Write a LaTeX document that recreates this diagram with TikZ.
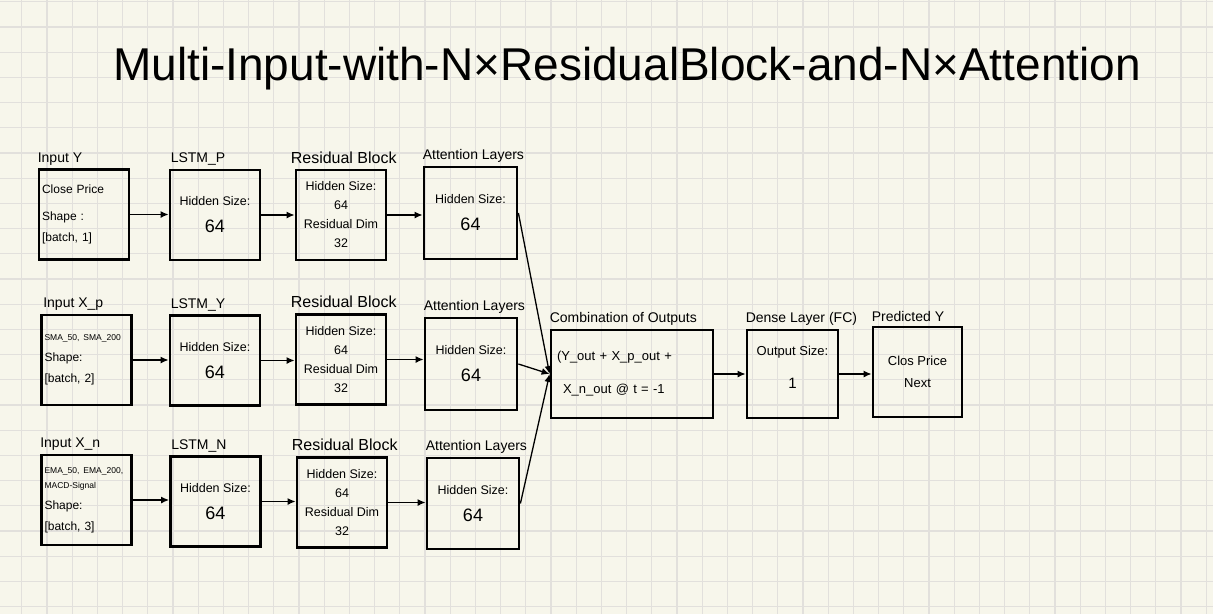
\documentclass[tikz,border=0pt]{standalone}
\usepackage{fontspec}
\setmainfont{Liberation Sans}
\usepackage{tikz}
\usetikzlibrary{arrows.meta,positioning}
\definecolor{paper}{RGB}{247,246,235}
\definecolor{gridgray}{RGB}{226,224,220}

\begin{document}
\begin{tikzpicture}[x=1pt, y=-1pt,
    layerbox/.style={draw, line width=2.8pt, minimum width=90pt,
        minimum height=90pt, inner sep=3pt, align=center,
        font=\fontsize{12.5}{19}\selectfont},
    inbox/.style={layerbox, text width=84pt, align=left,
        font=\fontsize{12}{21}\selectfont},
    layerlbl/.style={anchor=south west, inner sep=0pt,
        font=\fontsize{14}{16}\selectfont},
    flow/.style={-{Latex[length=8pt,width=7pt]}, line width=1.3pt},
    gridline/.style={gridgray, line width=1.2pt}]

    % Paper and grid
    \fill[paper] (0,0) rectangle (1213,614);
    \useasboundingbox (0,0) rectangle (1213,614);
    \foreach \k in {0,...,47} {
        \draw[gridline] ({21.7+25.2*\k},0) -- ({21.7+25.2*\k},614);
    }
    \foreach \k in {0,...,24} {
        \draw[gridline] (0,{1.7+25.2*\k}) -- (1213,{1.7+25.2*\k});
    }

    % Title
    \node[anchor=base, inner sep=0pt, font=\fontsize{46}{50}\selectfont]
        (title) at (627,80) {Multi-Input-with-N×ResidualBlock-and-N×Attention};

    % Row 1: Y
    \node[inbox] (inY) at (84,214.5)
        {Close Price\\[6pt] Shape :\\ {[}batch, 1{]}};
    \node[layerbox] (lstmP) at (215,215)
        {Hidden Size:\\[8pt] {\fontsize{18}{18}\selectfont 64}};
    \node[layerbox] (resA) at (341,215)
        {Hidden Size:\\ 64\\ Residual Dim\\ 32};
    \node[layerbox, minimum width=93pt, minimum height=92pt] (attA) at (470.5,213)
        {Hidden Size:\\[8pt] {\fontsize{18}{18}\selectfont 64}};

    % Row 2: X_p
    \node[inbox] (inP) at (86.5,360)
        {{\fontsize{8.5}{10}\selectfont SMA\_50, SMA\_200}\\ Shape:\\ {[}batch, 2{]}};
    \node[layerbox] (lstmY) at (215,360.5)
        {Hidden Size:\\[8pt] {\fontsize{18}{18}\selectfont 64}};
    \node[layerbox] (resB) at (341,359.5)
        {Hidden Size:\\ 64\\ Residual Dim\\ 32};
    \node[layerbox, minimum width=92pt, minimum height=92pt] (attB) at (471,364)
        {Hidden Size:\\[8pt] {\fontsize{18}{18}\selectfont 64}};

    % Row 3: X_n
    \node[inbox] (inN) at (86.5,500)
        {{\fontsize{8.5}{14}\selectfont EMA\_50, EMA\_200,\\[-6pt] MACD-Signal}\\ Shape:\\ {[}batch, 3{]}};
    \node[layerbox] (lstmN) at (215.5,501.5)
        {Hidden Size:\\[8pt] {\fontsize{18}{18}\selectfont 64}};
    \node[layerbox] (resC) at (342,502.5)
        {Hidden Size:\\ 64\\ Residual Dim\\ 32};
    \node[layerbox, minimum width=92pt, minimum height=91pt] (attC) at (473,503.5)
        {Hidden Size:\\[8pt] {\fontsize{18}{18}\selectfont 64}};

    % Merge and output
    \node[layerbox, minimum width=162pt, minimum height=88pt, text width=150pt,
        align=left, font=\fontsize{13}{33}\selectfont] (comb) at (632,374)
        {(Y\_out + X\_p\_out +\\ \hspace*{6pt}X\_n\_out @ t = -1};
    \node[layerbox, minimum width=91pt, minimum height=88pt,
        font=\fontsize{13}{33}\selectfont] (dense) at (792.5,374)
        {Output Size:\\ {\fontsize{15}{15}\selectfont 1}\\[-20pt]};
    \node[layerbox, minimum width=89pt, minimum height=90pt,
        font=\fontsize{13}{22}\selectfont] (pred) at (917.5,372)
        {Clos Price\\ Next};

    % Labels
    \node[layerlbl, above right=3pt and 0pt of inY.north west] (inYlbl) {Input Y};
    \node[layerlbl, above right=3pt and 2pt of lstmP.north west] (lstmPlbl) {LSTM\_P};
    \node[layerlbl, above right=5pt and -4pt of resA.north west, font=\fontsize{16}{18}\selectfont] (resAlbl) {Residual Block};
    \node[layerlbl, above right=3pt and 0pt of attA.north west] (attAlbl) {Attention Layers};
    \node[layerlbl, above right=3pt and 3pt of inP.north west] (inPlbl) {Input X\_p};
    \node[layerlbl, above right=3pt and 2pt of lstmY.north west] (lstmYlbl) {LSTM\_Y};
    \node[layerlbl, above right=5pt and -4pt of resB.north west, font=\fontsize{16}{18}\selectfont] (resBlbl) {Residual Block};
    \node[layerlbl, above right=3pt and 0pt of attB.north west] (attBlbl) {Attention Layers};
    \node[layerlbl, above right=3pt and 0pt of inN.north west] (inNlbl) {Input X\_n};
    \node[layerlbl, above right=3pt and 2pt of lstmN.north west] (lstmNlbl) {LSTM\_N};
    \node[layerlbl, above right=5pt and -4pt of resC.north west, font=\fontsize{16}{18}\selectfont] (resClbl) {Residual Block};
    \node[layerlbl, above right=3pt and 0pt of attC.north west] (attClbl) {Attention Layers};
    \node[layerlbl, above right=3pt and 0pt of comb.north west] (comblbl) {Combination of Outputs};
    \node[layerlbl, above right=3pt and 0pt of dense.north west] (denselbl) {Dense Layer (FC)};
    \node[layerlbl, above right=4pt and 0pt of pred.north west] (predlbl) {Predicted Y};

    % Row arrows
    \draw[flow] (inY.east) -- (inY.east -| lstmP.west);
    \draw[flow] (lstmP.east) -- (lstmP.east -| resA.west);
    \draw[flow] (resA.east) -- (resA.east -| attA.west);
    \draw[flow] (inP.east) -- (inP.east -| lstmY.west);
    \draw[flow] (lstmY.east) -- (lstmY.east -| resB.west);
    \draw[flow] (resB.east) -- (resB.east -| attB.west);
    \draw[flow] (inN.east) -- (inN.east -| lstmN.west);
    \draw[flow] (lstmN.east) -- (lstmN.east -| resC.west);
    \draw[flow] (resC.east) -- (resC.east -| attC.west);

    % Merge arrows
    \draw[flow] (attA.east) -- (comb.west);
    \draw[flow] (attB.east) -- (comb.west);
    \draw[flow] (attC.east) -- (comb.west);
    \draw[flow] (comb.east) -- (comb.east -| dense.west);
    \draw[flow] (dense.east) -- (dense.east -| pred.west);
\end{tikzpicture}
\end{document}
